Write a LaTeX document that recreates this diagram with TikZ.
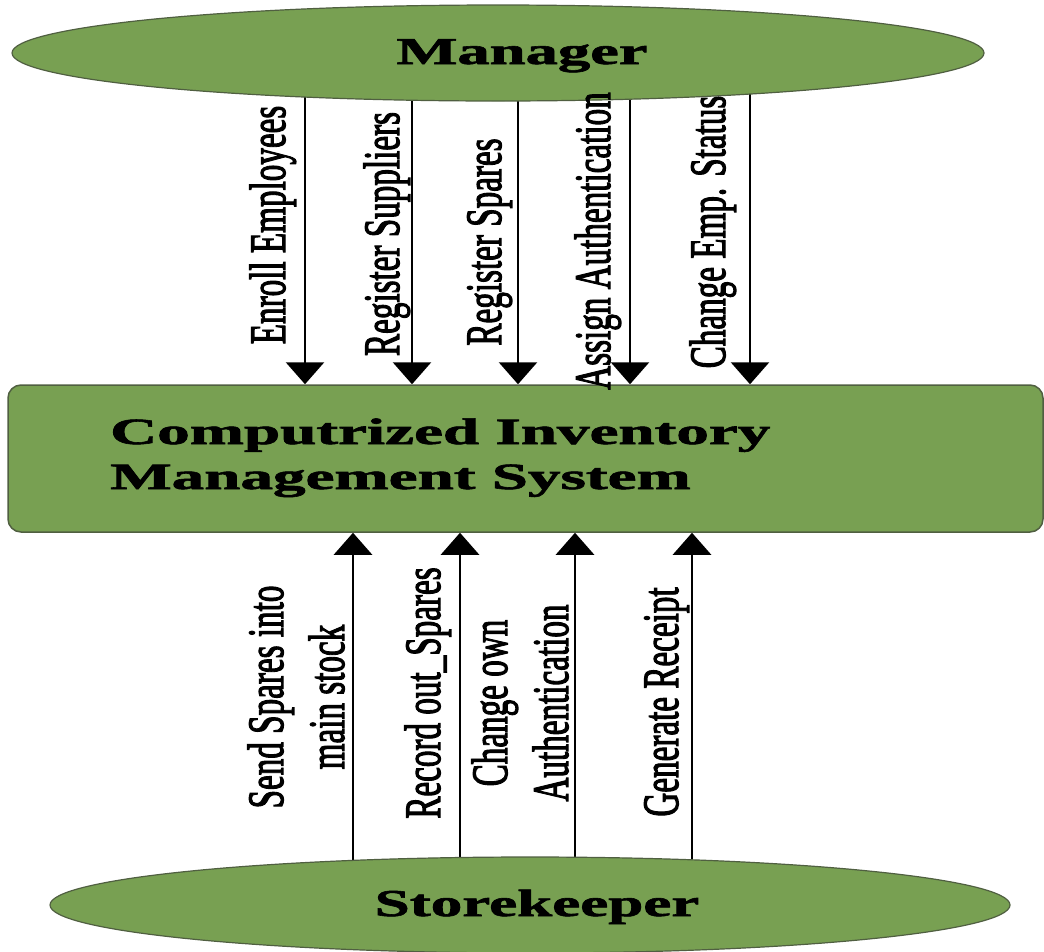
\documentclass[tikz,border=0pt]{standalone}
\usepackage{fontspec}
\setmainfont{Liberation Serif}
\newfontfamily\lblfont[RawFeature={embolden=2.6}]{Liberation Serif}
\newfontfamily\headfont[RawFeature={embolden=1.5}]{Liberation Serif Bold}
\usetikzlibrary{arrows.meta,shapes.geometric}
\pgfdeclarelayer{bg}
\pgfsetlayers{bg,main}
\definecolor{fillg}{RGB}{120,160,82}
\definecolor{edgeg}{RGB}{80,95,65}
\begin{document}
\begin{tikzpicture}[x=1pt,y=-1pt,
  actor/.style={ellipse, fill=fillg, draw=edgeg, line width=1.2pt, inner sep=0pt},
  sysbox/.style={rectangle, rounded corners=13pt, fill=fillg, draw=edgeg, line width=1.5pt, minimum width=1035pt, minimum height=147pt, inner sep=0pt},
  lbl/.style={rotate=90, anchor=base, inner sep=0pt, font=\lblfont\fontsize{51}{61}\selectfont},
  head/.style={inner sep=0pt, anchor=base, font=\headfont\fontsize{38}{40}\selectfont},
  arr/.style={line width=2.8pt, -{Triangle[width=38pt,length=22pt]}}]
\useasboundingbox (0,0) rectangle (1044,951);
% actors and system
\node[actor, minimum width=972pt, minimum height=96pt] (mgr) at (498,53) {};
\node[actor, minimum width=960pt, minimum height=96pt] (sk) at (530,905) {};
\node[sysbox] (sys) at (525.5,458.5) {};
\node[head] (mgrtxt) at (522,64) {\scalebox{1.7}[1]{Manager}};
\node[head] (sktxt) at (537,916) {\scalebox{1.66}[1]{Storekeeper}};
\node[anchor=base west, inner sep=0pt, font=\headfont\fontsize{37}{45}\selectfont] (systxt) at (110,444)
  {\scalebox{1.76}[1]{\begin{tabular}[t]{@{}l@{}}Computrized Inventory\\Management System\end{tabular}}};
% top labels
\node[lbl] (t1) at (285,225) {\scalebox{0.65}[1]{Enroll Employees}};
\node[lbl] (t2) at (399,234) {\scalebox{0.65}[1]{Register Suppliers}};
\node[lbl] (t3) at (501,242) {\scalebox{0.65}[1]{Register Spares}};
\node[lbl] (t4) at (610,241) {\scalebox{0.65}[1]{Assign Authentication}};
\node[lbl] (t5) at (725,232) {\scalebox{0.65}[1]{Change Emp. Status}};
% bottom labels
\node[lbl] (b1) at (283,697) {\scalebox{0.65}[1]{\begin{tabular}[t]{@{}c@{}}Send Spares into\\main stock\end{tabular}}};
\node[lbl] (b2) at (440,693) {\scalebox{0.65}[1]{Record out\_Spares}};
\node[lbl] (b3) at (507,703) {\scalebox{0.65}[1]{\begin{tabular}[t]{@{}c@{}}Change own\\Authentication\end{tabular}}};
\node[lbl] (b4) at (678,702) {\scalebox{0.65}[1]{Generate Receipt}};
% arrow positions
\coordinate (x1) at (305,0);
\coordinate (x2) at (412,0);
\coordinate (x3) at (518,0);
\coordinate (x4) at (630,0);
\coordinate (x5) at (750,0);
\coordinate (y1) at (353,0);
\coordinate (y2) at (460,0);
\coordinate (y3) at (575,0);
\coordinate (y4) at (692,0);
\begin{pgfonlayer}{bg}
\draw[arr] (x1 |- mgr.center) -- (x1 |- sys.north);
\draw[arr] (x2 |- mgr.center) -- (x2 |- sys.north);
\draw[arr] (x3 |- mgr.center) -- (x3 |- sys.north);
\draw[arr] (x4 |- mgr.center) -- (x4 |- sys.north);
\draw[arr] (x5 |- mgr.center) -- (x5 |- sys.north);
\draw[arr] (y1 |- sk.center) -- (y1 |- sys.south);
\draw[arr] (y2 |- sk.center) -- (y2 |- sys.south);
\draw[arr] (y3 |- sk.center) -- (y3 |- sys.south);
\draw[arr] (y4 |- sk.center) -- (y4 |- sys.south);
\end{pgfonlayer}
\end{tikzpicture}
\end{document}
